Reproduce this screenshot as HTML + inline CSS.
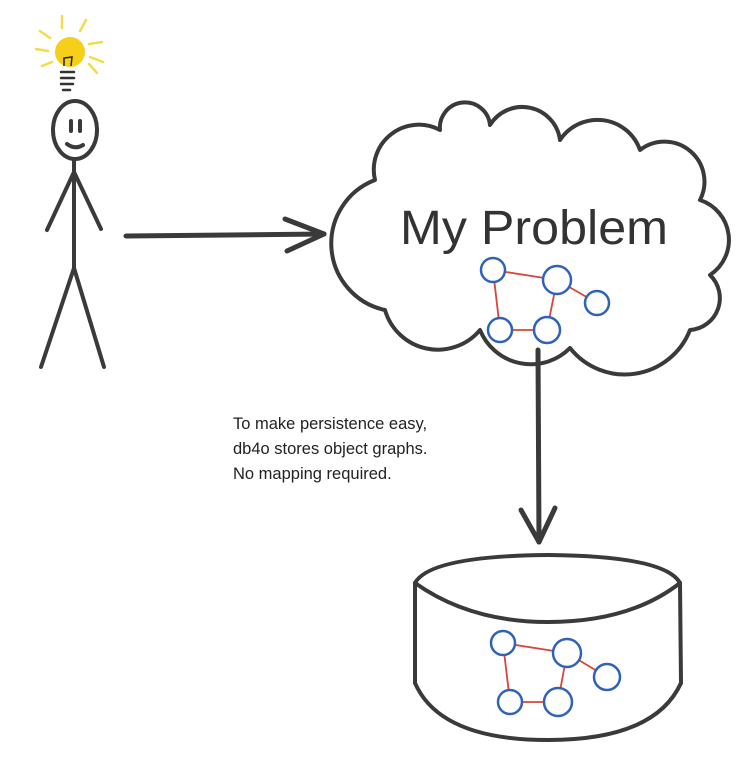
<!DOCTYPE html>
<html><head><meta charset="utf-8"><style>
html,body{margin:0;padding:0;background:#fff;}
svg{display:block;}
</style></head><body>
<svg width="750" height="768" viewBox="0 0 750 768" xmlns="http://www.w3.org/2000/svg">
<rect width="750" height="768" fill="#fff"/>
<g stroke="#f2dc4a" stroke-width="2.5" stroke-linecap="round" fill="none">
<line x1="62" y1="16" x2="62" y2="28"/>
<line x1="86" y1="20" x2="80" y2="31"/>
<line x1="40" y1="31" x2="50" y2="38"/>
<line x1="89" y1="44" x2="102" y2="42"/>
<line x1="36" y1="49" x2="48" y2="51"/>
<line x1="90" y1="57" x2="103" y2="62"/>
<line x1="42" y1="66" x2="52" y2="62"/>
<line x1="89" y1="64" x2="97" y2="73"/>
</g>
<circle cx="70" cy="52" r="15" fill="#f5cf1a"/>
<path d="M64 66 L64 58 L72 57 L71 66" stroke="#222" stroke-width="1.5" fill="none"/>
<g stroke="#333" stroke-width="2.5" stroke-linecap="round">
<line x1="61" y1="72" x2="74" y2="72"/>
<line x1="61" y1="78" x2="74" y2="78"/>
<line x1="61" y1="84" x2="73" y2="84"/>
<line x1="63" y1="90" x2="70" y2="90"/>
</g>
<g stroke="#3a3a3a" stroke-width="4" stroke-linecap="round" fill="none">
<ellipse cx="75" cy="130" rx="22" ry="29"/>
<line x1="71" y1="121" x2="71" y2="131"/>
<line x1="80" y1="121" x2="80" y2="131"/>
<path d="M67 144 Q75 150 83 145"/>
<line x1="74" y1="160" x2="74" y2="268"/>
<line x1="74" y1="172" x2="47" y2="230"/>
<line x1="74" y1="172" x2="101" y2="229"/>
<line x1="74" y1="268" x2="41" y2="367"/>
<line x1="74" y1="268" x2="104" y2="367"/>
</g>
<g stroke="#3a3a3a" stroke-width="5" stroke-linecap="round" fill="none">
<line x1="126" y1="236" x2="324" y2="234"/>
<line x1="285" y1="219" x2="324" y2="234"/>
<line x1="287" y1="251" x2="324" y2="234"/>
</g>
<path d="M385 310 A68 68 0 0 1 375 180 A45 45 0 0 1 440 130 A25 25 0 0 1 490 125 A38 38 0 0 1 560 140 A45 45 0 0 1 640 150 A40 40 0 0 1 700 200 A42 42 0 0 1 710 275 A32 32 0 0 1 690 330 A70 70 0 0 1 570 348 A55 55 0 0 1 480 330 A55 55 0 0 1 385 310 Z" fill="none" stroke="#3a3a3a" stroke-width="4" stroke-linejoin="round"/>
<text x="400" y="244" font-family="Liberation Sans, sans-serif" font-size="48" fill="#333" textLength="268" lengthAdjust="spacingAndGlyphs">My Problem</text>
<g stroke="#d8453a" stroke-width="1.8">
<line x1="493" y1="270" x2="557" y2="280"/>
<line x1="493" y1="270" x2="500" y2="330"/>
<line x1="500" y1="330" x2="547" y2="330"/>
<line x1="557" y1="280" x2="547" y2="330"/>
<line x1="557" y1="280" x2="597" y2="303"/>
</g>
<g stroke="#2f63b8" stroke-width="2.5" fill="#fff">
<circle cx="493" cy="270" r="12"/>
<circle cx="557" cy="280" r="14"/>
<circle cx="597" cy="303" r="12"/>
<circle cx="500" cy="330" r="12"/>
<circle cx="547" cy="330" r="13"/>
</g>
<g stroke="#3a3a3a" stroke-width="5" stroke-linecap="round" fill="none">
<line x1="538" y1="350" x2="539" y2="542"/>
<line x1="521" y1="510" x2="539" y2="542"/>
<line x1="555" y1="508" x2="539" y2="542"/>
</g>
<g font-family="Liberation Sans, sans-serif" font-size="16.5" fill="#222">
<text x="233" y="429">To make persistence easy,</text>
<text x="233" y="454">db4o stores object graphs.</text>
<text x="233" y="479">No mapping required.</text>
</g>
<g stroke="#3a3a3a" stroke-width="4" fill="none" stroke-linecap="round">
<path d="M415 583 Q430 556 548 555 Q665 556 680 583"/>
<path d="M415 583 Q470 622 548 622 Q630 622 680 583"/>
<path d="M415 583 L415 683"/>
<path d="M680 583 L681 683"/>
<path d="M415 683 Q440 740 548 740 Q655 740 681 683"/>
</g>
<g stroke="#d8453a" stroke-width="1.8">
<line x1="503" y1="643" x2="567" y2="653"/>
<line x1="503" y1="643" x2="510" y2="702"/>
<line x1="510" y1="702" x2="558" y2="702"/>
<line x1="567" y1="653" x2="558" y2="702"/>
<line x1="567" y1="653" x2="607" y2="677"/>
</g>
<g stroke="#2f63b8" stroke-width="2.5" fill="#fff">
<circle cx="503" cy="643" r="12"/>
<circle cx="567" cy="653" r="14"/>
<circle cx="607" cy="677" r="13"/>
<circle cx="510" cy="702" r="12"/>
<circle cx="558" cy="702" r="14"/>
</g>
</svg>
</body></html>
